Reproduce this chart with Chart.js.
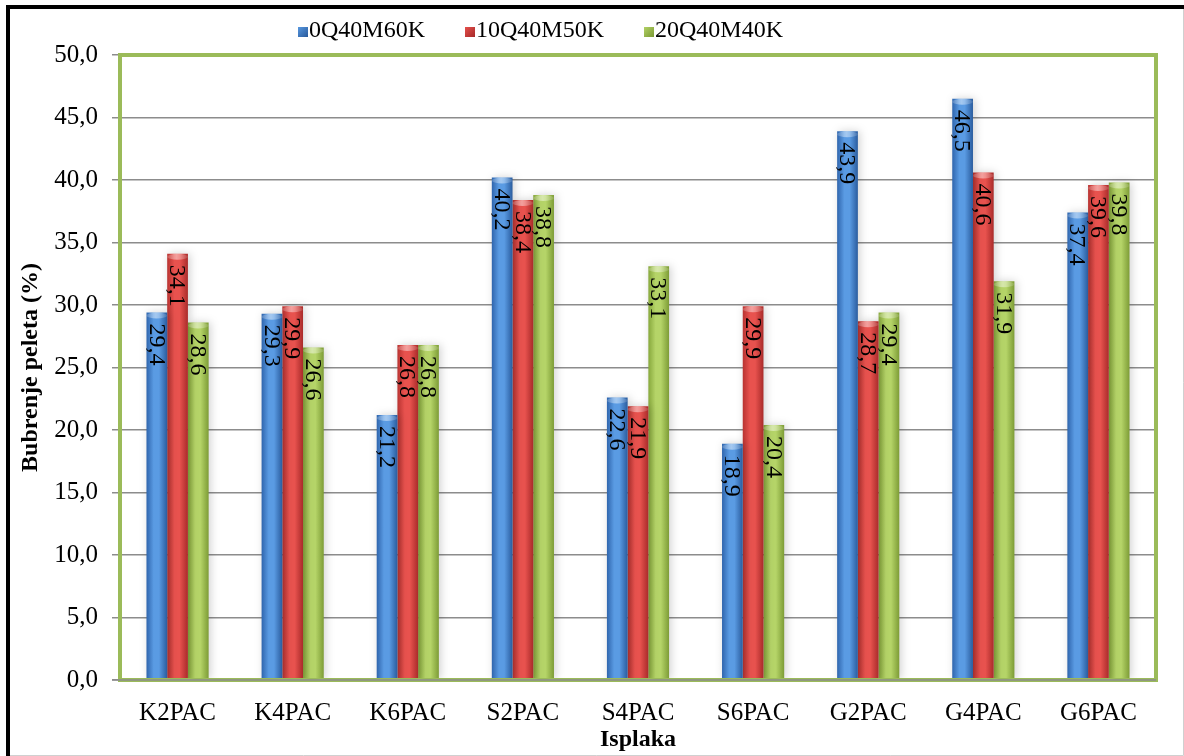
<!DOCTYPE html>
<html>
<head>
<meta charset="utf-8">
<script src="https://cdn.jsdelivr.net/npm/chart.js@4"></script>
<style>
  html, body { margin: 0; padding: 0; background: #fff; }
  #wrap { width: 1184px; height: 756px; position: relative; }
</style>
</head>
<body>
<div id="wrap"><canvas id="swellChart"></canvas></div>
<script>
const categories = ["K2PAC", "K4PAC", "K6PAC", "S2PAC", "S4PAC", "S6PAC", "G2PAC", "G4PAC", "G6PAC"];
const seriesNames = ["0Q40M60K", "10Q40M50K", "20Q40M40K"];
const values0Q = [29.4, 29.3, 21.2, 40.2, 22.6, 18.9, 43.9, 46.5, 37.4];
const values10Q = [34.1, 29.9, 26.8, 38.4, 21.9, 29.9, 28.7, 40.6, 39.6];
const values20Q = [28.6, 26.6, 26.8, 38.8, 33.1, 20.4, 29.4, 31.9, 39.8];

// edge / middle colours for the cylinder look
const barShades = [
    ["#2f65ad", "#5a9be3", "#2a5c9e"],
    ["#b83331", "#e8524e", "#a92b2a"],
    ["#87a83c", "#b5d468", "#7d9c36"]
];

const FONT = "'Liberation Serif', 'Times New Roman', serif";
const catPct = 0.54;

function barFill(ctx) {
    const chart = ctx.chart;
    const shade = barShades[ctx.datasetIndex];
    const area = chart.chartArea;
    if (!area || ctx.type !== "data") return shade[1];
    const xs = chart.scales.x;
    const w = (area.width / categories.length) * catPct / 3;
    const cx = xs.getPixelForValue(ctx.dataIndex) + (ctx.datasetIndex - 1) * w;
    const g = chart.ctx.createLinearGradient(cx - w / 2, 0, cx + w / 2, 0);
    g.addColorStop(0, shade[0]);
    g.addColorStop(0.35, shade[1]);
    g.addColorStop(0.6, shade[1]);
    g.addColorStop(1, shade[2]);
    return g;
}

const framePlugin = {
    id: "frame",
    beforeDraw(chart) {
        const c = chart.ctx;
        c.save();
        c.fillStyle = "#ffffff";
        c.fillRect(0, 0, chart.width, chart.height);
        c.restore();
    },
    afterDraw(chart) {
        const c = chart.ctx;
        const a = chart.chartArea;
        c.save();
        // plot border
        c.strokeStyle = "#9bbb59";
        c.lineWidth = 4;
        c.strokeRect(a.left, a.top, a.right - a.left, a.bottom - a.top);
        // baseline drawn over the green
        c.strokeStyle = "#8c8c8c";
        c.lineWidth = 1.5;
        c.beginPath();
        c.moveTo(a.left - 8, a.bottom);
        c.lineTo(a.right, a.bottom);
        c.stroke();
        // outer frame
        c.fillStyle = "#000";
        c.fillRect(6, 5, 4, 751);
        c.fillRect(6, 5, 1178, 4);
        c.strokeStyle = "#d0d0d0";
        c.lineWidth = 1;
        c.beginPath();
        c.moveTo(1183.5, 9);
        c.lineTo(1183.5, 755.5);
        c.lineTo(10, 755.5);
        c.stroke();

        // legend
        c.font = "24px " + FONT;
        c.textBaseline = "middle";
        c.textAlign = "left";
        let x = 298;
        const y = 31;
        seriesNames.forEach((name, i) => {
            const g = c.createLinearGradient(x, y - 5, x + 10, y + 5);
            g.addColorStop(0, barShades[i][1]);
            g.addColorStop(1, barShades[i][2]);
            c.fillStyle = g;
            c.fillRect(x, y - 4, 10, 10);
            c.fillStyle = "#000";
            c.fillText(name, x + 11, y);
            x += 11 + c.measureText(name).width + 40;
        });
        c.restore();
    },
    beforeDatasetsDraw(chart) {
        const c = chart.ctx;
        c.save();
        c.shadowColor = "rgba(0,0,0,0.18)";
        c.shadowBlur = 8;
        c.shadowOffsetX = 2;
        c.shadowOffsetY = 0;
    },
    afterDatasetsDraw(chart) {
        const c = chart.ctx;
        c.restore();
        c.save();
        // cylinder caps
        chart.data.datasets.forEach((ds, di) => {
            chart.getDatasetMeta(di).data.forEach(bar => {
                const w = bar.width;
                const g = c.createLinearGradient(bar.x - w / 2, 0, bar.x + w / 2, 0);
                g.addColorStop(0, "rgba(255,255,255,0.15)");
                g.addColorStop(0.45, "rgba(255,255,255,0.45)");
                g.addColorStop(1, "rgba(255,255,255,0.1)");
                c.fillStyle = g;
                c.beginPath();
                c.ellipse(bar.x, bar.y + 3, w / 2, 3, 0, 0, Math.PI * 2);
                c.fill();
            });
        });
        // rotated value labels
        c.font = "24px " + FONT;
        c.fillStyle = "#000";
        c.textAlign = "left";
        c.textBaseline = "middle";
        chart.data.datasets.forEach((ds, di) => {
            chart.getDatasetMeta(di).data.forEach((bar, i) => {
                const txt = ds.data[i].toFixed(1).replace(".", ",");
                c.save();
                c.translate(bar.x, bar.y + 11);
                c.rotate(Math.PI / 2);
                c.fillText(txt, 0, 1);
                c.restore();
            });
        });
        c.restore();
    }
};

const ctx = document.getElementById("swellChart").getContext("2d");

new Chart(ctx, {
    type: "bar",
    data: {
        labels: categories,
        datasets: [values0Q, values10Q, values20Q].map((vals, i) => ({
            label: seriesNames[i],
            data: vals,
            backgroundColor: barFill,
            borderWidth: 0,
            categoryPercentage: catPct,
            barPercentage: 1.0
        }))
    },
    options: {
        responsive: true,
        maintainAspectRatio: false,
        animation: false,
        devicePixelRatio: 1,
        layout: { padding: { top: 55, right: 28, left: 0, bottom: 0 } },
        plugins: {
            legend: { display: false },
            tooltip: { enabled: false }
        },
        scales: {
            x: {
                grid: { display: false, drawTicks: false },
                border: { display: false },
                ticks: { color: "#000", font: { family: FONT, size: 25 }, padding: 18 },
                title: {
                    display: true,
                    text: "Isplaka",
                    color: "#000",
                    font: { family: FONT, size: 24, weight: "bold" },
                    padding: { top: 0, bottom: 2 }
                },
                afterFit(scale) { scale.height = 76; }
            },
            y: {
                min: 0,
                max: 50,
                ticks: {
                    stepSize: 5,
                    color: "#000",
                    font: { family: FONT, size: 25 },
                    padding: 14,
                    callback: v => v.toFixed(1).replace(".", ",")
                },
                grid: { color: "#8c8c8c", lineWidth: 1.5, tickLength: 8 },
                border: { display: false },
                title: {
                    display: true,
                    text: "Bubrenje peleta (%)",
                    color: "#000",
                    font: { family: FONT, size: 24, weight: "bold" },
                    padding: { top: 16, bottom: 0 }
                },
                afterFit(scale) { scale.width = 120; }
            }
        }
    },
    plugins: [framePlugin]
});
</script>
</body>
</html>
